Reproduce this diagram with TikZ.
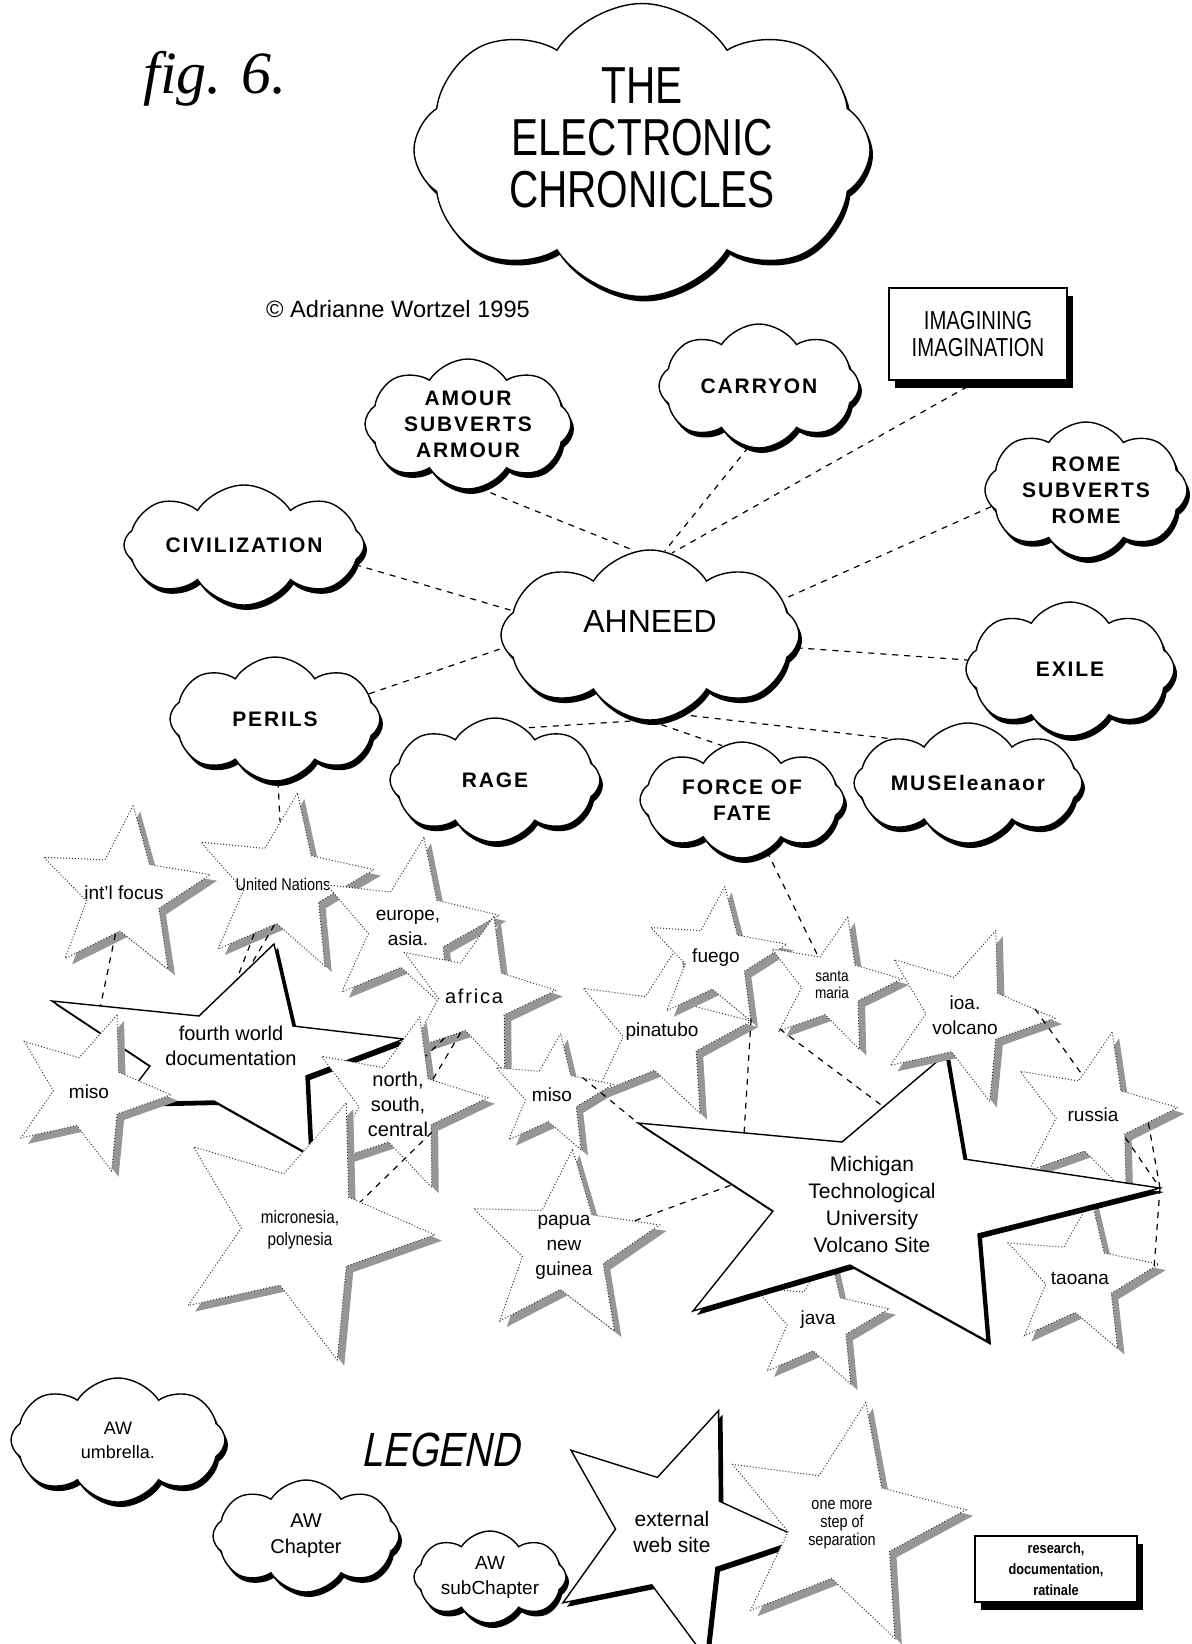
\documentclass[tikz,border=0pt]{standalone}
\usepackage{fontspec}
\setmainfont{Liberation Sans}
\newfontfamily\figfont{Liberation Serif}
\newfontfamily\thinfont[FakeStretch=0.78]{Liberation Sans}
\newfontfamily\legendfont[FakeStretch=0.8,FakeSlant=0.2]{Liberation Sans}
\newfontfamily\cloudfont[LetterSpace=9]{Liberation Sans}
\newfontfamily\narrowfont[FakeStretch=0.85]{Liberation Sans}
\usetikzlibrary{shapes.symbols,shapes.geometric,shadows,calc}
\definecolor{ecgray}{RGB}{150,150,150}
\tikzset{
  bubble/.style={cloud, cloud puffs=8, cloud puff arc=115, cloud ignores aspect, draw, line width=0.7pt, fill=white, inner sep=0pt, align=center, drop shadow={shadow xshift=1.5pt, shadow yshift=-2.5pt, fill=black, opacity=1}},
  bubbletext/.style={font=\cloudfont\bfseries\fontsize{10.5}{13}\selectfont},
  gstar/.style={star, star points=5, star point ratio=2.3, draw=black!80, densely dotted, line width=0.5pt, fill=white, inner sep=0pt, drop shadow={shadow xshift=3.5pt, shadow yshift=-3pt, fill=ecgray, opacity=1}},
  bstar/.style={star, star points=5, star point ratio=2.3, draw, line width=0.7pt, fill=white, inner sep=0pt, drop shadow={shadow xshift=2pt, shadow yshift=-2pt, fill=black, opacity=1}},
  bigstar/.style={draw, line width=0.7pt, fill=white, drop shadow={shadow xshift=2pt, shadow yshift=-2pt, fill=black, opacity=1}},
  lbl/.style={align=center, inner sep=0pt, font=\fontsize{9.5}{12.5}\selectfont},
  link/.style={dashed, line width=0.6pt},
  panel/.style={draw, line width=0.7pt, fill=white, align=center, inner sep=0pt, drop shadow={shadow xshift=3pt, shadow yshift=-4pt, fill=black, opacity=1}}
}

\begin{document}
\begin{tikzpicture}[x=0.5pt, y=-0.5pt]
  \useasboundingbox (0,0) rectangle (1191,1644);
  % heading
  \node[font=\figfont\itshape\fontsize{30}{30}\selectfont] (fig) at (215,79) {fig. 6.};
  \node[bubble, minimum width=228pt, minimum height=118pt, text depth=12pt, font=\thinfont\fontsize{26}{26}\selectfont] (title) at (642,150) {THE\\ELECTRONIC\\CHRONICLES};
  \node[font=\fontsize{11.8}{13}\selectfont] (copy) at (398,309) {© Adrianne Wortzel 1995};

  % chapters
  \node[panel, minimum width=89pt, minimum height=46pt, font=\thinfont\fontsize{13}{13.5}\selectfont] (imag) at (978,334) {IMAGINING\\IMAGINATION};
  \node[bubble, bubbletext, minimum width=100pt, minimum height=62pt] (carryon) at (759,386) {CARRYON};
  \node[bubble, bubbletext, minimum width=103pt, minimum height=65pt] (amour) at (468,424) {AMOUR\\SUBVERTS\\ARMOUR};
  \node[bubble, bubbletext, minimum width=101pt, minimum height=68pt] (rome) at (1086,490) {ROME\\SUBVERTS\\ROME};
  \node[bubble, bubbletext, minimum width=120pt, minimum height=60pt] (civ) at (244,545) {CIVILIZATION};
  \node[bubble, minimum width=149pt, minimum height=85pt, text depth=14pt, font=\fontsize{16}{16}\selectfont] (ahneed) at (650,635) {AHNEED};
  \node[bubble, bubbletext, minimum width=104pt, minimum height=67pt] (exile) at (1070,669) {EXILE};
  \node[bubble, bubbletext, minimum width=105pt, minimum height=62pt] (perils) at (275,719) {PERILS};
  \node[bubble, bubbletext, minimum width=105pt, minimum height=62pt] (rage) at (495,780) {RAGE};
  \node[bubble, bubbletext, minimum width=102pt, minimum height=58pt] (force) at (742,800) {FORCE OF\\FATE};
  \node[bubble, bubbletext, minimum width=114pt, minimum height=60pt] (muse) at (968,783) {MUSEleanaor};

  \draw[link] (amour.-80) -- (ahneed.100);
  \draw[link] (carryon.-100) -- (ahneed.80);
  \draw[link] (imag.south) -- (ahneed.75);
  \draw[link] (civ.-10) -- (ahneed.170);
  \draw[link] (rome.190) -- (ahneed.15);
  \draw[link] (ahneed.-5) -- (exile.175);
  \draw[link] (perils.15) -- (ahneed.185);
  \draw[link] (ahneed.-95) -- (rage.60);
  \draw[link] (ahneed.-90) -- (force.110);
  \draw[link] (ahneed.-70) -- (muse.150);

  % external sites
  \node[gstar, minimum size=88pt, shape border rotate=-6, label={[lbl, name=intl-t]center:int'l focus}] (intl) at (124,893) {};
  \node[gstar, minimum size=92pt, shape border rotate=-9, label={[lbl, name=un-t, font=\narrowfont\fontsize{8.5}{9}\selectfont]center:United Nations}] (un) at (283,884) {};
  \node[gstar, minimum size=92pt, shape border rotate=-10, label={[lbl, name=europe-t]center:{europe,\\asia.}}] (europe) at (408,928) {};
  \node[gstar, minimum size=82pt, shape border rotate=-14, label={[lbl, name=africa-t, font=\cloudfont\fontsize{10}{12}\selectfont]center:africa}] (africa) at (474,996) {};

  \coordinate (fw-a) at (52,1001);
  \coordinate (fw-b) at (199,1016);
  \coordinate (fw-c) at (274,944);
  \coordinate (fw-d) at (293,1026);
  \coordinate (fw-e) at (404,1039);
  \coordinate (fw-f) at (306,1076);
  \coordinate (fw-g) at (310,1155);
  \coordinate (fw-h) at (214,1101);
  \coordinate (fw-i) at (122,1103);
  \coordinate (fw-j) at (150,1066);
  \draw[bigstar] (fw-a) -- (fw-b) -- (fw-c) -- (fw-d) -- (fw-e) -- (fw-f) -- (fw-g) -- (fw-h) -- (fw-i) -- (fw-j) -- cycle;
  \node[lbl, font=\fontsize{10}{12.5}\selectfont] (fourth) at (231,1046) {fourth world\\documentation};

  \node[gstar, minimum size=82pt, shape border rotate=-20, label={[lbl, name=misoa-t]center:miso}] (misoa) at (89,1092) {};
  \node[gstar, minimum size=90pt, shape border rotate=-14, label={[lbl, name=north-t, font=\fontsize{10}{12.5}\selectfont]center:{north,\\south,\\central}}] (north) at (398,1104) {};
  \node[gstar, minimum size=135pt, shape border rotate=-20, label={[lbl, name=micro-t, font=\narrowfont\fontsize{9}{11}\selectfont]center:{micronesia,\\polynesia}}] (micro) at (300,1230) {};
  \node[gstar, minimum size=90pt, shape border rotate=-11, label={[lbl, name=pina-t]center:pinatubo}] (pina) at (662,1032) {};
  \node[gstar, minimum size=62pt, shape border rotate=-8, label={[lbl, name=misob-t]center:miso}] (misob) at (552,1095) {};
  \node[gstar, minimum size=98pt, shape border rotate=-5, label={[lbl, name=papua-t]center:{papua\\new\\guinea}}] (papua) at (564,1247) {};
  \node[gstar, minimum size=72pt, shape border rotate=-9, label={[lbl, name=java-t]center:java}] (java) at (818,1320) {};
  \node[gstar, minimum size=80pt, shape border rotate=-8, label={[lbl, name=taoana-t]center:taoana}] (taoana) at (1080,1278) {};
  \node[gstar, minimum size=85pt, shape border rotate=-13, label={[lbl, name=russia-t]center:russia}] (russia) at (1093,1115) {};

  \coordinate (mtu-a) at (638,1123);
  \coordinate (mtu-b) at (842,1142);
  \coordinate (mtu-c) at (946,1054);
  \coordinate (mtu-d) at (964,1159);
  \coordinate (mtu-e) at (1160,1188);
  \coordinate (mtu-f) at (978,1234);
  \coordinate (mtu-g) at (987,1341);
  \coordinate (mtu-h) at (850,1265);
  \coordinate (mtu-i) at (693,1311);
  \coordinate (mtu-j) at (773,1211);
  \draw[bigstar] (mtu-a) -- (mtu-b) -- (mtu-c) -- (mtu-d) -- (mtu-e) -- (mtu-f) -- (mtu-g) -- (mtu-h) -- (mtu-i) -- (mtu-j) -- cycle;
  \node[lbl, font=\fontsize{10.5}{13.5}\selectfont] (mtu) at (872,1204) {Michigan\\Technological\\University\\Volcano Site};

  \node[gstar, minimum size=72pt, shape border rotate=-7, label={[lbl, name=fuego-t]center:fuego}] (fuego) at (716,958) {};
  \node[gstar, minimum size=70pt, shape border rotate=-13, label={[lbl, name=santa-t, font=\narrowfont\fontsize{8}{8.5}\selectfont]center:{santa\\maria}}] (santa) at (832,985) {};
  \node[gstar, minimum size=90pt, shape border rotate=-20, label={[lbl, name=io-t]center:{ioa.\\volcano}}] (io) at (965,1015) {};

  \draw[link] (perils) -- (un);
  \draw[link] (un.240) -- ($(fw-b)!0.5!(fw-c)$);
  \draw[link] (un.258) -- ($(fw-b)!0.67!(fw-c)$);
  \draw[link] (intl) -- ($(fw-a)!0.33!(fw-b)$);
  \draw[link] (africa.235) -- (north.60);
  \draw[link] (africa.250) -- (north.35);
  \draw[link] (north.-40) -- (micro.25);
  \draw[link] (force) -- (santa);
  \draw[link] (fuego.-60) -- ($(mtu-a)!0.52!(mtu-b)$);
  \draw[link] (santa.220) -- ($(mtu-b)!0.4!(mtu-c)$);
  \draw[link] (misob.30) -- (mtu-a);
  \draw[link] (papua) -- ($(mtu-a)!0.7!(mtu-j)$);
  \draw[link] (io.5) -- (russia.105);
  \draw[link] (russia.-35) -- (mtu-e);
  \draw[link] (russia.-8) -- (mtu-e);
  \draw[link] (mtu-e) -- (taoana.8);

  % legend
  \node[bubble, minimum width=107pt, minimum height=62pt, font=\fontsize{9}{12}\selectfont] (umbrella) at (118,1440) {AW\\umbrella.};
  \node[font=\legendfont\fontsize{24}{24}\selectfont] (legend) at (440,1450) {LEGEND};
  \node[bubble, minimum width=93pt, minimum height=56pt, font=\fontsize{10}{13}\selectfont] (chapter) at (306,1536) {AW\\Chapter};
  \node[bubble, minimum width=76pt, minimum height=46pt, font=\fontsize{9.5}{12.5}\selectfont] (subch) at (490,1577) {AW\\subChapter};
  \node[bstar, minimum size=130pt, shape border rotate=-21, label={[lbl, name=ext-t, font=\fontsize{10.5}{13}\selectfont]center:{external\\web site}}] (ext) at (672,1532) {};
  \node[gstar, minimum size=125pt, shape border rotate=-11, label={[lbl, name=step-t, font=\narrowfont\fontsize{8.5}{9}\selectfont]center:{one more\\step of\\separation}}] (step) at (842,1525) {};
  \node[panel, minimum width=81pt, minimum height=33pt, font=\narrowfont\bfseries\fontsize{7.5}{10.5}\selectfont] (research) at (1056,1569) {research,\\documentation,\\ratinale};
\end{tikzpicture}
\end{document}
